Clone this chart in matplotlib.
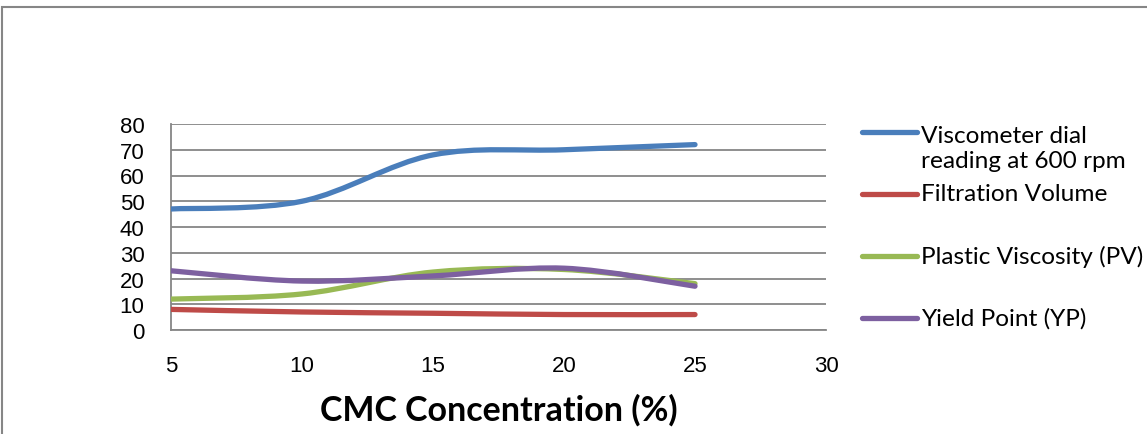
import matplotlib.pyplot as plt
from matplotlib.path import Path
from matplotlib.patches import PathPatch, Rectangle
from matplotlib.lines import Line2D

# data
cmc = [5, 10, 15, 20, 25]
viscometer_600 = [47, 50, 68, 70, 72]
filtration_volume = [8, 7, 6.5, 6, 6]
plastic_viscosity = [12, 14, 22.5, 23.5, 18]
yield_point = [23, 19, 21, 24, 17]

series = [
    ("Viscometer dial\nreading at 600 rpm", viscometer_600, "#4A7EBB"),
    ("Filtration Volume", filtration_volume, "#BE4B48"),
    ("Plastic Viscosity (PV)", plastic_viscosity, "#98B954"),
    ("Yield Point (YP)", yield_point, "#7D60A0"),
]

plt.rcParams['font.family'] = ['Liberation Sans', 'DejaVu Sans']
plt.rcParams['font.size'] = 16


def smooth_path(xs, ys):
    # Excel-style smoothed line: cubic bezier segments through the points
    n = len(xs)
    verts = [(xs[0], ys[0])]
    codes = [Path.MOVETO]
    for i in range(n - 1):
        i0 = max(i - 1, 0)
        i3 = min(i + 2, n - 1)
        c1 = (xs[i] + (xs[i + 1] - xs[i0]) / 6, ys[i] + (ys[i + 1] - ys[i0]) / 6)
        c2 = (xs[i + 1] - (xs[i3] - xs[i]) / 6, ys[i + 1] - (ys[i3] - ys[i]) / 6)
        verts += [c1, c2, (xs[i + 1], ys[i + 1])]
        codes += [Path.CURVE4] * 3
    return Path(verts, codes)


W, H = 1147, 435
fig = plt.figure(figsize=(W / 100, H / 100), dpi=100)
ax = fig.add_axes([171 / W, 1 - 331 / H, (826 - 171) / W, (331 - 125) / H])

for label, vals, color in series:
    ax.add_patch(PathPatch(smooth_path(cmc, vals), fill=False, edgecolor=color,
                           lw=3.8, capstyle="round", joinstyle="round", zorder=3))

ax.set_xlim(5, 30)
ax.set_ylim(0, 80)
ax.set_xticks(range(5, 31, 5))
ax.set_yticks(range(0, 81, 10))
ax.yaxis.grid(True, color="#868686", lw=1.3)
ax.set_axisbelow(True)
for s in ["top", "right"]:
    ax.spines[s].set_visible(False)
for s in ["left", "bottom"]:
    ax.spines[s].set_color("#868686")
    ax.spines[s].set_linewidth(1.3)
ax.tick_params(length=0, labelsize=16)
ax.tick_params(axis="y", pad=19)
ax.tick_params(axis="x", pad=18)

ax.set_xlabel("CMC Concentration (%)", fontsize=24.5, fontweight="bold",
              fontfamily="Lato", va="center")
ax.xaxis.set_label_coords(0.5, (331 - 410) / (331 - 125))

# legend, placed by hand like the Excel one
leg_y = [133, 195, 257, 319]
for (label, vals, color), y in zip(series, leg_y):
    fig.add_artist(Line2D([862 / W, 917 / W], [1 - y / H] * 2, color=color, lw=3.8,
                          solid_capstyle="round"))
    ty = y + 16 if "\n" in label else y
    fig.text(921 / W, 1 - ty / H, label, fontsize=17.6, fontfamily="Lato",
             va="center", linespacing=1.25)

# chart area border (cut off at right and bottom)
fig.add_artist(Rectangle((2 / W, -0.5), 1.5, 1.5 - 8 / H, transform=fig.transFigure,
                         fill=False, edgecolor="#868686", lw=1.5))

fig.savefig("out.png", dpi=100)
